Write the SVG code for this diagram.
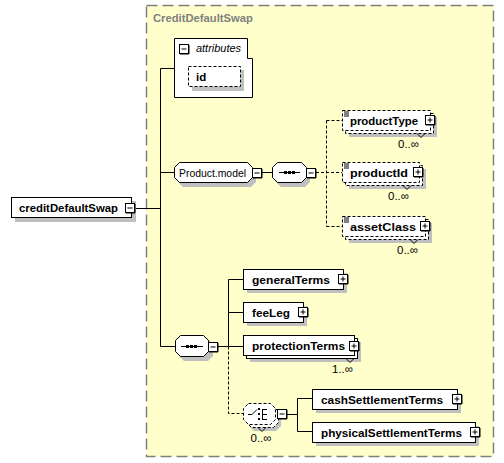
<svg xmlns="http://www.w3.org/2000/svg" xmlns:xlink="http://www.w3.org/1999/xlink" width="504" height="463" viewBox="0 0 504 463">
<style>
text{font-family:"Liberation Sans",Arial,sans-serif;font-size:11.5px;fill:#000}
.b{font-weight:bold}
.t{font-weight:bold;fill:#808080}
.it{font-style:italic}
.box{fill:#fff;stroke:#000;stroke-width:1}
.dbox{fill:#fff;stroke:#000;stroke-width:1;stroke-dasharray:3,2}
.sh{fill:#c0c0c0}
.ln{fill:none;stroke:#000;stroke-width:1}
.dl{fill:none;stroke:#000;stroke-width:1;stroke-dasharray:3,2}
</style>
<defs>
<g id="mn"><rect x="0.5" y="0.5" width="9" height="9" fill="#fff" stroke="#000"/><path d="M10 1V10H1" fill="none" stroke="#000"/><path d="M2.5 5H7.5" stroke="#000"/></g>
<g id="pl"><rect x="0.5" y="0.5" width="9" height="9" fill="#fff" stroke="#000"/><path d="M10 1V10H1" fill="none" stroke="#000"/><path d="M2.5 5H7.5M5 2.5V7.5" stroke="#000"/></g>
<g id="lines"><path d="M0 0H5M0 2H5M0 4H5" stroke="#000" stroke-width="1"/></g>
</defs>
<rect x="0" y="0" width="504" height="463" fill="#fff"/>
<g id="container">
<rect x="146.5" y="5.5" width="347" height="451" fill="#ffffcc" stroke="#808080" stroke-width="1.5" stroke-dasharray="11,5"/>
<text class="t" x="153" y="22" textLength="100" lengthAdjust="spacingAndGlyphs">CreditDefaultSwap</text>
</g>
<g id="connectors">
<path class="ln" d="M135 208.5H160.5M160.5 68.5V346.5M160.5 68.5H174.5M160.5 172.5H174M160.5 346.5H175M262 172.5H272"/>
<path class="dl" d="M316 172.5H342M326.5 120.5V226.5M326.5 120.5H342M326.5 226.5H342"/>
<path class="ln" d="M218 346.5H228.5M228.5 279.5V346.5M228.5 279.5H243M228.5 312.5H243M228.5 346.5H243"/>
<path class="dl" d="M228.5 346.5V413.5H243"/>
<path class="ln" d="M287 414.5H297.5M297.5 398.5V431.5M297.5 398.5H312M297.5 431.5H312"/>
</g>
<g id="creditDefaultSwap">
<rect class="sh" x="15" y="201" width="121" height="21"/>
<rect class="box" x="11.5" y="197.5" width="120" height="20"/>
<text class="b" x="19" y="212" textLength="99" lengthAdjust="spacingAndGlyphs">creditDefaultSwap</text>
<use xlink:href="#mn" x="125" y="203"/>
</g>
<g id="attributes">
<polygon class="box" points="174.5,38.5 247.5,38.5 247.5,58.5 252.5,58.5 252.5,97.5 174.5,97.5"/>
<use xlink:href="#mn" x="179" y="44"/>
<text class="it" x="196" y="52" textLength="45" lengthAdjust="spacingAndGlyphs">attributes</text>
<rect class="sh" x="192" y="70" width="52" height="21"/>
<rect class="dbox" x="188.5" y="66.5" width="52" height="20"/>
<text class="b" x="196" y="80.5">id</text>
</g>
<g id="productModel">
<polygon class="sh" points="183,166 251,166 256,171 256,182 251,187 183,187 178,182 178,171"/>
<polygon class="box" points="179.5,162.5 247.5,162.5 252.5,167.5 252.5,177.5 247.5,182.5 179.5,182.5 174.5,177.5 174.5,167.5"/>
<text x="179" y="176.5" textLength="67" lengthAdjust="spacingAndGlyphs">Product.model</text>
<use xlink:href="#mn" x="252" y="168"/>
</g>
<g id="sequence1">
<polygon class="sh" points="281,166 305,166 310,171 310,182 305,187 281,187 276,182 276,171"/>
<polygon class="box" points="277.5,162.5 301.5,162.5 306.5,167.5 306.5,177.5 301.5,182.5 277.5,182.5 272.5,177.5 272.5,167.5"/>
<path d="M279 172.5H300" stroke="#000"/>
<rect x="284" y="171" width="3" height="3"/><rect x="288" y="171" width="3" height="3"/><rect x="292" y="171" width="3" height="3"/>
<use xlink:href="#mn" x="306" y="168"/>
</g>
<g id="productType">
<rect class="sh" x="349" y="117" width="88" height="20"/>
<rect class="dbox" x="345.5" y="113.5" width="88" height="20"/>
<rect class="dbox" x="342.5" y="110.5" width="88" height="20"/>
<use xlink:href="#lines" x="344" y="112"/>
<text class="b" x="350" y="124.5" textLength="68" lengthAdjust="spacingAndGlyphs">productType</text>
<use xlink:href="#pl" x="425" y="115"/>
<path d="M417 133.5L421 137.5L425 133.5" fill="none" stroke="#000"/>
<text x="419" y="148" text-anchor="end">0..∞</text>
</g>
<g id="productId">
<rect class="sh" x="349" y="169" width="77" height="20"/>
<rect class="dbox" x="345.5" y="165.5" width="77" height="20"/>
<rect class="dbox" x="342.5" y="162.5" width="77" height="20"/>
<use xlink:href="#lines" x="344" y="164"/>
<text class="b" x="350" y="176.5" textLength="58" lengthAdjust="spacingAndGlyphs">productId</text>
<use xlink:href="#pl" x="413" y="167"/>
<path d="M403 185.5L407 189.5L411 185.5" fill="none" stroke="#000"/>
<text x="409" y="200" text-anchor="end">0..∞</text>
</g>
<g id="assetClass">
<rect class="sh" x="349" y="223" width="83" height="20"/>
<rect class="dbox" x="345.5" y="219.5" width="83" height="20"/>
<rect class="dbox" x="342.5" y="216.5" width="83" height="20"/>
<use xlink:href="#lines" x="344" y="218"/>
<text class="b" x="350" y="230.5" textLength="66" lengthAdjust="spacingAndGlyphs">assetClass</text>
<use xlink:href="#pl" x="420" y="221"/>
<path d="M410 239.5L414 243.5L418 239.5" fill="none" stroke="#000"/>
<text x="418" y="254" text-anchor="end">0..∞</text>
</g>
<g id="sequence2">
<polygon class="sh" points="184,339 208,339 213,344 213,356 208,361 184,361 179,356 179,344"/>
<polygon class="box" points="180.5,335.5 203.5,335.5 208.5,340.5 208.5,351.5 203.5,356.5 180.5,356.5 175.5,351.5 175.5,340.5"/>
<path d="M181 346.5H203" stroke="#000"/>
<rect x="186" y="345" width="3" height="3"/><rect x="190" y="345" width="3" height="3"/><rect x="194" y="345" width="3" height="3"/>
<use xlink:href="#mn" x="208" y="342"/>
</g>
<g id="generalTerms">
<rect class="sh" x="247" y="273" width="100" height="20"/>
<rect class="box" x="243.5" y="269.5" width="100" height="20"/>
<text class="b" x="252" y="283.5" textLength="78" lengthAdjust="spacingAndGlyphs">generalTerms</text>
<use xlink:href="#pl" x="338" y="274"/>
</g>
<g id="feeLeg">
<rect class="sh" x="247" y="306" width="60" height="20"/>
<rect class="box" x="243.5" y="302.5" width="60" height="20"/>
<text class="b" x="252" y="316.5" textLength="38" lengthAdjust="spacingAndGlyphs">feeLeg</text>
<use xlink:href="#pl" x="298" y="307"/>
</g>
<g id="protectionTerms">
<rect class="sh" x="250" y="342" width="111" height="20"/>
<rect class="box" x="246.5" y="338.5" width="111" height="20"/>
<rect class="box" x="243.5" y="335.5" width="111" height="20"/>
<text class="b" x="252" y="349.5" textLength="93" lengthAdjust="spacingAndGlyphs">protectionTerms</text>
<use xlink:href="#pl" x="349" y="341"/>
<path d="M346 358.5L350 362.5L354 358.5" fill="none" stroke="#000"/>
<text x="353" y="373" text-anchor="end">1..∞</text>
</g>
<g id="choice">
<polygon class="sh" points="254,410 276,410 281,415 281,426 276,431 254,431 249,426 249,415"/>
<polygon class="dbox" points="251.5,406.5 273.5,406.5 278.5,411.5 278.5,422.5 273.5,427.5 251.5,427.5 246.5,422.5 246.5,411.5"/>
<polygon class="dbox" points="248.5,403.5 270.5,403.5 275.5,408.5 275.5,419.5 270.5,424.5 248.5,424.5 243.5,419.5 243.5,408.5"/>
<path d="M248 414.5H252L257 409.5" fill="none" stroke="#000"/>
<rect x="258" y="408" width="2" height="2"/><rect x="258" y="413" width="2" height="2"/><rect x="258" y="418" width="2" height="2"/>
<path d="M262.5 409V420M262.5 409.5H267M262.5 414.5H267M262.5 419.5H267" fill="none" stroke="#000"/>
<use xlink:href="#mn" x="277" y="409"/>
<path d="M258 427.5L262 431.5L266 427.5" fill="none" stroke="#000"/>
<text x="261" y="442" text-anchor="middle">0..∞</text>
</g>
<g id="cashSettlementTerms">
<rect class="sh" x="316" y="393" width="145" height="20"/>
<rect class="box" x="312.5" y="389.5" width="145" height="20"/>
<text class="b" x="321" y="403.5" textLength="122" lengthAdjust="spacingAndGlyphs">cashSettlementTerms</text>
<use xlink:href="#pl" x="452" y="394"/>
</g>
<g id="physicalSettlementTerms">
<rect class="sh" x="316" y="426" width="163" height="20"/>
<rect class="box" x="312.5" y="422.5" width="163" height="20"/>
<text class="b" x="321" y="436.5" textLength="141" lengthAdjust="spacingAndGlyphs">physicalSettlementTerms</text>
<use xlink:href="#pl" x="470" y="427"/>
</g>
</svg>
